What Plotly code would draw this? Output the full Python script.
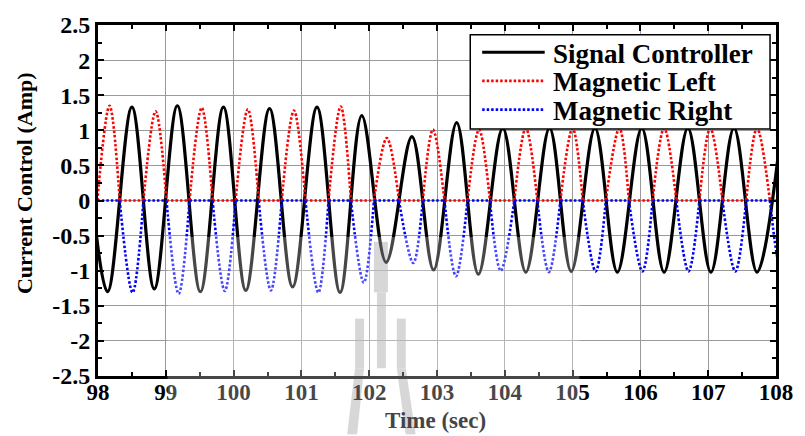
import plotly.graph_objects as go

# ---------------- data ----------------
# Signal Controller: successive extrema (time in s, current in A)
ctrl_t = [97.80, 98.14, 98.50, 98.83, 99.17, 99.51, 99.85, 100.18, 100.53, 100.87,
          101.23, 101.57, 101.89, 102.25, 102.63, 102.95, 103.29, 103.61, 103.97, 104.31,
          104.66, 104.98, 105.33, 105.66, 106.02, 106.35, 106.70, 107.04, 107.38, 107.72,
          108.08]
ctrl_v = [1.30, -1.30, 1.33, -1.26, 1.35, -1.30, 1.33, -1.28, 1.31, -1.23,
          1.33, -1.31, 1.21, -0.88, 0.91, -0.99, 1.11, -1.05, 1.03, -1.02,
          1.03, -1.01, 1.03, -1.02, 1.03, -1.02, 1.03, -1.02, 1.03, -1.02,
          1.03]

# zero crossings of the magnetic currents (s)
cross_t = [97.99, 98.32, 98.67, 99.01, 99.35, 99.69, 100.03, 100.37, 100.71, 101.06,
           101.40, 101.73, 102.07, 102.44, 102.79, 103.11, 103.45, 103.78, 104.14, 104.48,
           104.82, 105.15, 105.49, 105.83, 106.18, 106.53, 106.87, 107.21, 107.56, 107.91,
           108.25]

# Magnetic Left: peaks of each positive lobe
left_t = [98.17, 98.85, 99.53, 100.21, 100.89, 101.58, 102.26, 102.94, 103.62, 104.31,
          105.00, 105.69, 106.35, 107.03, 107.72]
left_v = [1.35, 1.27, 1.32, 1.30, 1.28, 1.34, 0.89, 1.01, 1.01, 1.03,
          1.03, 1.03, 1.03, 1.03, 1.03]

# Magnetic Right: troughs of each negative lobe
right_t = [98.51, 99.19, 99.87, 100.55, 101.25, 101.92, 102.65, 103.28, 103.94, 104.65,
           105.34, 106.03, 106.71, 107.40, 108.08]
right_v = [-1.31, -1.33, -1.29, -1.28, -1.31, -1.17, -0.89, -1.08, -1.00, -1.02,
           -1.01, -1.01, -1.01, -1.01, -1.01]

x_ticks = [98, 99, 100, 101, 102, 103, 104, 105, 106, 107, 108]
y_ticks = [-2.5, -2, -1.5, -1, -0.5, 0, 0.5, 1, 1.5, 2, 2.5]
y_tick_text = ["-2.5", "-2", "-1.5", "-1", "-0.5", "0", "0.5", "1", "1.5", "2", "2.5"]

series_names = ["Signal Controller", "Magnetic Left", "Magnetic Right"]


# ---------------- build half-wave traces (lobes + flat zero parts) ----------------
def half_wave(lobe_start, peak_t, peak_v):
    xs, ys = [], []
    n = len(peak_t)
    for k in range(n):
        a = cross_t[2 * k + lobe_start]
        b = cross_t[2 * k + lobe_start + 1]
        xs += [a, peak_t[k], b, None]
        ys += [0, peak_v[k], 0, None]
    # flat parts where the other coil is active
    for k in range(n):
        i = 2 * k + (1 - lobe_start)
        if i + 1 < len(cross_t):
            xs += [cross_t[i], cross_t[i + 1], None]
            ys += [0, 0, None]
    return xs, ys


lx, ly = half_wave(0, left_t, left_v)
rx, ry = half_wave(1, right_t, right_v)

FONT = "Liberation Serif"

fig = go.Figure()
fig.add_trace(go.Scatter(x=ctrl_t, y=ctrl_v, mode="lines", name=series_names[0],
                         line=dict(color="black", width=3.2, shape="spline", smoothing=1.0),
                         showlegend=False))
fig.add_trace(go.Scatter(x=lx, y=ly, mode="lines", name=series_names[1], connectgaps=False,
                         line=dict(color="#ff0000", width=2.6, dash="2.5px,2px",
                                   shape="spline", smoothing=1.0),
                         showlegend=False))
fig.add_trace(go.Scatter(x=rx, y=ry, mode="lines", name=series_names[2], connectgaps=False,
                         line=dict(color="#0000ff", width=2.6, dash="2.5px,2px",
                                   shape="spline", smoothing=1.0),
                         showlegend=False))

# plot area in pixels
L, R, T, B = 98, 781, 15, 376
W, H = R - L, B - T


def px(v):
    return (v - L) / W


def py(v):
    return (B - v) / H


shapes = []
annotations = []

# legend box (drawn manually)
shapes.append(dict(type="rect", xref="paper", yref="paper", layer="above",
                   x0=px(473), x1=px(775), y0=py(122), y1=py(25),
                   fillcolor="white", line=dict(color="black", width=1.5)))
leg_rows = [43, 72.5, 102]
leg_styles = [dict(color="black", width=3),
              dict(color="#ff0000", width=2.6, dash="2.5px,2px"),
              dict(color="#0000ff", width=2.6, dash="2.5px,2px")]
for yrow, st, name in zip(leg_rows, leg_styles, series_names):
    shapes.append(dict(type="line", xref="paper", yref="paper", layer="above",
                       x0=px(485), x1=px(548), y0=py(yrow), y1=py(yrow), line=st))
    annotations.append(dict(text=name, xref="paper", yref="paper",
                            x=px(554), y=py(yrow + 1.5), xanchor="left", yanchor="middle",
                            showarrow=False,
                            font=dict(family=FONT, size=27, color="black", weight="bold")))

# faint watermark (logo) behind the data
logo_fill = "#c8c8c8"
for (x0, y0, x1, y1) in [(376, 238, 390, 290), (379, 290, 388, 368),
                         (357, 317, 366, 368), (399, 317, 408, 368)]:
    shapes.append(dict(type="rect", xref="paper", yref="paper", layer="below",
                       x0=px(x0), x1=px(x1), y0=py(y1), y1=py(y0),
                       fillcolor=logo_fill, line=dict(width=0)))
shapes.append(dict(type="path", xref="paper", yref="paper", layer="below",
                   path="M {} {} L {} {} L {} {} L {} {} Z".format(
                       px(357), py(368), px(366), py(368), px(359), py(436), px(349), py(436)),
                   fillcolor=logo_fill, line=dict(width=0)))
shapes.append(dict(type="path", xref="paper", yref="paper", layer="below",
                   path="M {} {} L {} {} L {} {} L {} {} Z".format(
                       px(399), py(368), px(408), py(368), px(418), py(436), px(408), py(436)),
                   fillcolor=logo_fill, line=dict(width=0)))
# whitening veil of the watermark
shapes.append(dict(type="rect", xref="paper", yref="paper", layer="above",
                   x0=px(168), x1=px(583), y0=py(436), y1=py(233),
                   fillcolor="white", opacity=0.28, line=dict(width=0)))

# axis titles
annotations.append(dict(text="Current Control (Amp)", xref="paper", yref="paper",
                        x=px(24), y=py(178), textangle=-90, showarrow=False,
                        xanchor="center", yanchor="middle",
                        font=dict(family=FONT, size=22, color="black", weight="bold")))
annotations.append(dict(text="Time (sec)", xref="paper", yref="paper",
                        x=px(437.5), y=py(435.5), showarrow=False,
                        xanchor="center", yanchor="bottom", borderpad=0,
                        font=dict(family=FONT, size=23, color="#454545", weight="bold")))

fig.update_layout(
    width=805, height=436,
    margin=dict(l=L, r=805 - R, t=T, b=436 - B, pad=0),
    paper_bgcolor="white", plot_bgcolor="white",
    showlegend=False,
    shapes=shapes, annotations=annotations,
)

fig.update_xaxes(range=[98, 108], tickvals=x_ticks, ticktext=[str(v) for v in x_ticks],
                 ticks="inside", ticklen=6, tickwidth=1.5, tickcolor="black",
                 showline=True, linewidth=3, linecolor="black", mirror="allticks",
                 showgrid=True, gridcolor="#9a9a9a", gridwidth=1, zeroline=False,
                 ticklabelstandoff=-7,
                 tickfont=dict(family=FONT, size=23, color="black", weight="bold"),
                 minor=dict(dtick=0.5, tick0=98, ticks="inside", ticklen=4,
                            tickcolor="black", tickwidth=1.5, showgrid=False))
fig.update_yaxes(range=[-2.5, 2.5], tickvals=y_ticks, ticktext=y_tick_text,
                 ticks="inside", ticklen=6, tickwidth=1.5, tickcolor="black",
                 showline=True, linewidth=3, linecolor="black", mirror="allticks",
                 showgrid=True, gridcolor="#9a9a9a", gridwidth=1, zeroline=False,
                 tickfont=dict(family=FONT, size=24, color="black", weight="bold"),
                 minor=dict(dtick=0.25, tick0=0, ticks="inside", ticklen=4,
                            tickcolor="black", tickwidth=1.5, showgrid=False))

fig.write_html("out.html")
